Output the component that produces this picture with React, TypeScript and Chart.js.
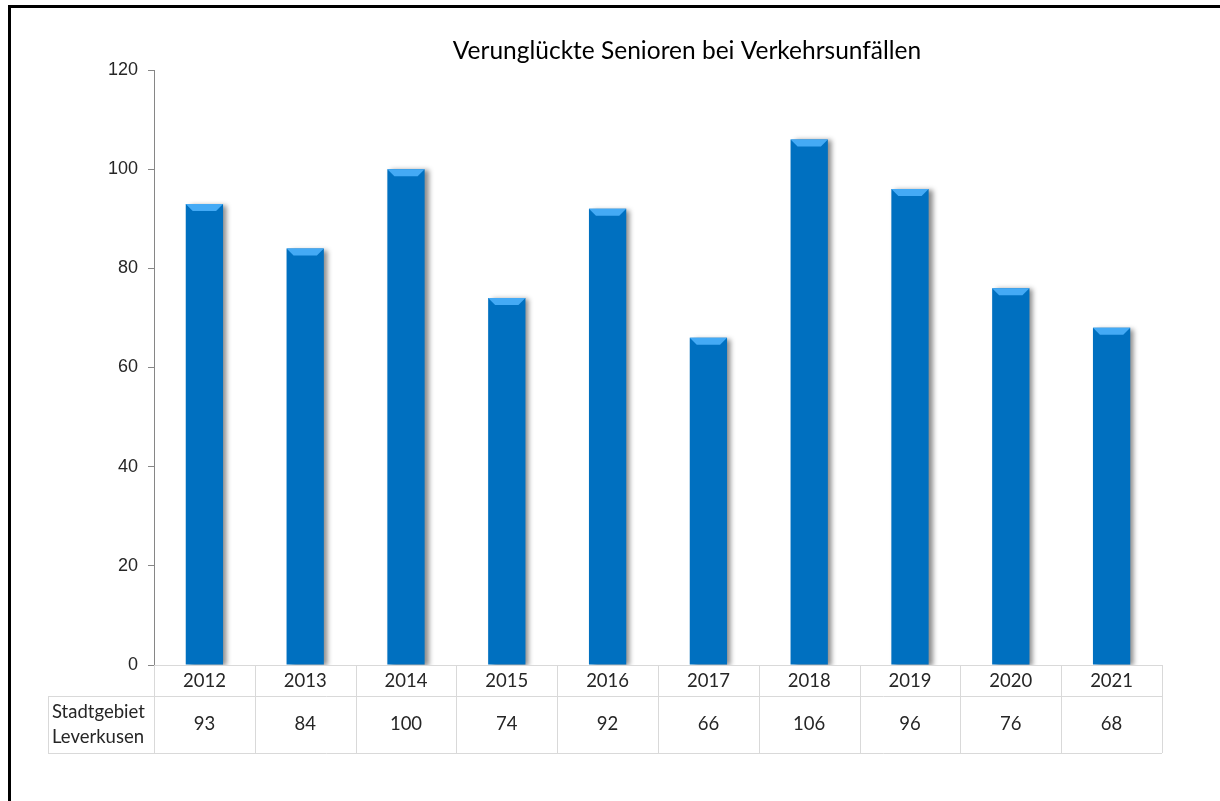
import React, { useEffect, useRef } from "react";
import { Chart, registerables } from "chart.js";

Chart.register(...registerables);

const chartTitle = "Verunglückte Senioren bei Verkehrsunfällen";
const years = ["2012", "2013", "2014", "2015", "2016", "2017", "2018", "2019", "2020", "2021"];
const seniorsInjured = [93, 84, 100, 74, 92, 66, 106, 96, 76, 68];
const rowLabelLines = ["Stadtgebiet", "Leverkusen"];
const yMin = 0;
const yMax = 120;
const yStep = 20;

const BAR_COLOR = "#0070C0";
const BEVEL_COLOR = "#44AAF5";
const GRID_COLOR = "#D9D9D9";
const TEXT_COLOR = "#262626";
const TABLE_FONT = "18.5px Lato, 'Open Sans', sans-serif";

const framePlugin = {
  id: "frame",
  beforeDraw(chart: any) {
    const ctx = chart.ctx;
    ctx.save();
    ctx.fillStyle = "#ffffff";
    ctx.fillRect(0, 0, chart.width, chart.height);
    ctx.strokeStyle = "#000000";
    ctx.lineWidth = 3;
    ctx.beginPath();
    ctx.moveTo(9.5, chart.height);
    ctx.lineTo(9.5, 6.5);
    ctx.lineTo(chart.width, 6.5);
    ctx.stroke();
    ctx.restore();
  },
};

const titlePlugin = {
  id: "customTitle",
  afterDraw(chart: any) {
    const ctx = chart.ctx;
    const area = chart.chartArea;
    ctx.save();
    ctx.font = "24.5px Lato, 'Open Sans', sans-serif";
    ctx.fillStyle = "#000000";
    ctx.textAlign = "center";
    ctx.textBaseline = "middle";
    ctx.fillText(chartTitle, (area.left + area.right) / 2 + 29, area.top - 19);
    ctx.restore();
  },
};

const barStylePlugin = {
  id: "barStyle",
  beforeDatasetsDraw(chart: any) {
    const ctx = chart.ctx;
    ctx.save();
    ctx.shadowColor = "rgba(0,0,0,0.45)";
    ctx.shadowBlur = 5;
    ctx.shadowOffsetX = 4;
    ctx.shadowOffsetY = 1;
  },
  afterDatasetsDraw(chart: any) {
    const ctx = chart.ctx;
    ctx.restore();
    ctx.save();
    const meta = chart.getDatasetMeta(0);
    meta.data.forEach((el: any) => {
      const half = el.width / 2;
      const left = el.x - half;
      const right = el.x + half;
      const top = el.y;
      const d = 7;
      ctx.fillStyle = BEVEL_COLOR;
      ctx.beginPath();
      ctx.moveTo(left, top);
      ctx.lineTo(right, top);
      ctx.lineTo(right - d, top + d);
      ctx.lineTo(left + d, top + d);
      ctx.closePath();
      ctx.fill();
    });
    ctx.restore();
  },
};

const tablePlugin = {
  id: "dataTable",
  afterDraw(chart: any) {
    const ctx = chart.ctx;
    const area = chart.chartArea;
    const xs = chart.scales.x;
    const n = years.length;
    const half = (xs.getPixelForValue(1) - xs.getPixelForValue(0)) / 2;
    const row0 = area.bottom;
    const row1 = area.bottom + 31;
    const row2 = area.bottom + 88;
    const headerLeft = 48;

    ctx.save();
    ctx.strokeStyle = GRID_COLOR;
    ctx.lineWidth = 1;
    ctx.beginPath();
    ctx.moveTo(area.left, Math.round(row0) + 0.5);
    ctx.lineTo(area.right, Math.round(row0) + 0.5);
    ctx.moveTo(headerLeft, Math.round(row1) + 0.5);
    ctx.lineTo(area.right, Math.round(row1) + 0.5);
    ctx.moveTo(headerLeft, Math.round(row2) + 0.5);
    ctx.lineTo(area.right, Math.round(row2) + 0.5);
    for (let i = 0; i <= n; i++) {
      const bx = i < n ? xs.getPixelForValue(i) - half : xs.getPixelForValue(n - 1) + half;
      const px = Math.round(bx) + 0.5;
      ctx.moveTo(px, row0);
      ctx.lineTo(px, row2);
    }
    ctx.moveTo(headerLeft + 0.5, row1);
    ctx.lineTo(headerLeft + 0.5, row2);
    ctx.stroke();

    ctx.fillStyle = TEXT_COLOR;
    ctx.font = TABLE_FONT;
    ctx.textAlign = "center";
    ctx.textBaseline = "middle";
    for (let i = 0; i < n; i++) {
      const cx = xs.getPixelForValue(i);
      ctx.fillText(years[i], cx, (row0 + row1) / 2 + 1);
      ctx.fillText(String(seniorsInjured[i]), cx, (row1 + row2) / 2);
    }
    ctx.textAlign = "left";
    ctx.fillText(rowLabelLines[0], headerLeft + 4, row1 + 16);
    ctx.fillText(rowLabelLines[1], headerLeft + 4, row1 + 41);
    ctx.restore();
  },
};

export default function App() {
  const canvasRef = useRef<HTMLCanvasElement | null>(null);

  useEffect(() => {
    if (!canvasRef.current) return;
    const chart = new Chart(canvasRef.current, {
      type: "bar",
      data: {
        labels: years,
        datasets: [
          {
            label: "Stadtgebiet Leverkusen",
            data: seniorsInjured,
            backgroundColor: BAR_COLOR,
            borderWidth: 0,
            categoryPercentage: 1,
            barPercentage: 0.37,
          },
        ],
      },
      options: {
        responsive: false,
        animation: false,
        events: [],
        layout: { padding: { left: 0, right: 58, top: 70, bottom: 136 } },
        plugins: {
          legend: { display: false },
          title: { display: false },
          tooltip: { enabled: false },
        },
        scales: {
          x: { display: false },
          y: {
            min: yMin,
            max: yMax,
            ticks: {
              stepSize: yStep,
              padding: 10,
              color: "#262626",
              font: { family: "'Liberation Sans', Arial, sans-serif", size: 18 },
            },
            grid: {
              drawOnChartArea: false,
              drawTicks: true,
              tickLength: 6,
              color: "#868686",
            },
            border: { display: true, color: "#868686", width: 1 },
            afterFit(scale: any) {
              scale.width = 154;
            },
          },
        },
      },
      plugins: [framePlugin, barStylePlugin, tablePlugin, titlePlugin],
    });
    return () => chart.destroy();
  }, []);

  return (
    <div style={{ position: "absolute", left: 0, top: 0, width: 1220, height: 801 }}>
      <canvas ref={canvasRef} width={1220} height={801} style={{ display: "block" }} />
    </div>
  );
}
